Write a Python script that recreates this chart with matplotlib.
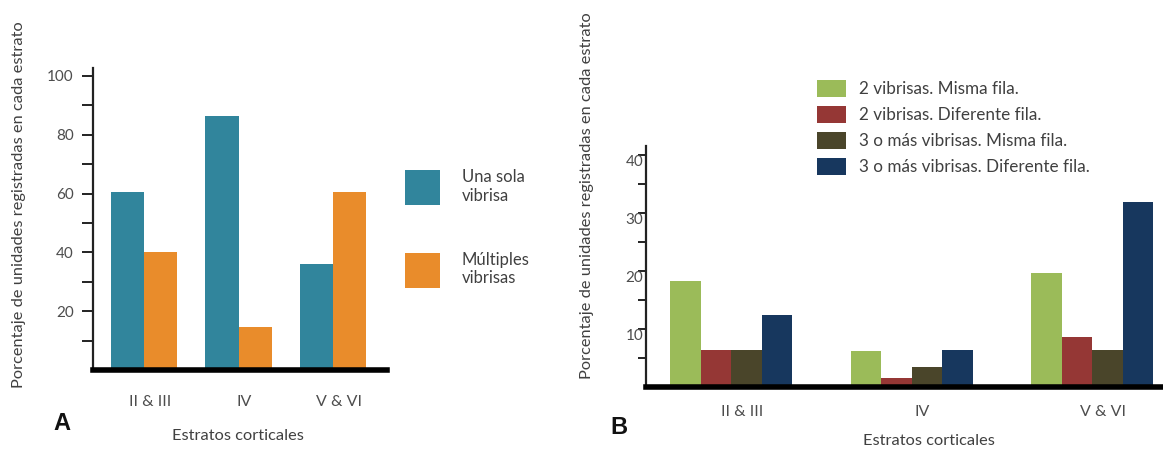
import numpy as np
import matplotlib
matplotlib.use("Agg")
import matplotlib.pyplot as plt

plt.rcParams['font.family'] = ['Lato', 'DejaVu Sans']

# data
estratos = ['II & III', 'IV', 'V & VI']

# panel A
una_sola = [60.5, 86.5, 36]
multiples = [40, 14.5, 60.5]
labels_a = ['Una sola\nvibrisa', 'Múltiples\nvibrisas']

# panel B
dos_misma = [18.3, 6.2, 19.7]
dos_diferente = [6.4, 1.6, 8.6]
tres_misma = [6.4, 3.4, 6.4]
tres_diferente = [12.4, 6.4, 31.9]
labels_b = ['2 vibrisas. Misma fila.', '2 vibrisas. Diferente fila.',
            '3 o más vibrisas. Misma fila.', '3 o más vibrisas. Diferente fila.']

colors_a = ['#31859C', '#E98C2B']
colors_b = ['#9BBB59', '#953735', '#4A452A', '#17375E']

W, H = 1163, 449
txt = '#404040'
tick_c = '#4d4d4d'


def px(x, y):
    return x / W, 1 - y / H


fig = plt.figure(figsize=(W / 100, H / 100), dpi=100)

# ---------- panel A ----------
axA = fig.add_axes([93 / W, (H - 370) / H, (387 - 93) / W, (370 - 68) / H])
x = np.arange(len(estratos))
w = 0.35
bars1 = axA.bar(x - w / 2, una_sola, w, color=colors_a[0], label=labels_a[0])
bars2 = axA.bar(x + w / 2, multiples, w, color=colors_a[1], label=labels_a[1])
axA.set_xlim(-0.54, 2.57)
axA.set_ylim(0, 102.7)
axA.set_yticks([20, 40, 60, 80, 100])
axA.set_yticks([10, 30, 50, 70, 90], minor=True)
axA.tick_params(axis='y', which='both', length=8, width=1.4, color='#222222',
                pad=6, labelsize=11, labelcolor=tick_c)
axA.set_xticks(x + 0.06, estratos)
axA.tick_params(axis='x', length=0, pad=18, labelsize=11.5, labelcolor=tick_c)
for s in ['top', 'right']:
    axA.spines[s].set_visible(False)
axA.spines['left'].set_linewidth(1.6)
axA.spines['left'].set_color('#222222')
axA.spines['bottom'].set_linewidth(4)
axA.spines['bottom'].set_color('black')
axA.spines['bottom'].set_zorder(5)

fig.legend(handles=[bars1, bars2], labels=labels_a, loc='upper left',
           bbox_to_anchor=px(405, 169), frameon=False, fontsize=12,
           handlelength=2.1, handleheight=2.85, handletextpad=1.3,
           labelspacing=2.78, borderpad=0, borderaxespad=0, labelcolor=txt)

fig.text(*px(19, 205), 'Porcentaje de unidades registradas en cada estrato',
         rotation=90, ha='center', va='center', fontsize=11.8, color=txt)
fig.text(*px(238, 436), 'Estratos corticales', ha='center', va='center',
         fontsize=11.8, color=txt)
fig.text(*px(62, 423), 'A', ha='center', va='center', fontsize=17,
         fontweight='bold', color='#111111', family=['Liberation Sans'])

# ---------- panel B ----------
axB = fig.add_axes([646 / W, (H - 387) / H, (W - 646) / W, (387 - 146) / H])
wb = 0.169
series_b = [dos_misma, dos_diferente, tres_misma, tres_diferente]
handles_b = []
for i, (vals, c, lab) in enumerate(zip(series_b, colors_b, labels_b)):
    b = axB.bar(x + (i - 1.5) * wb, vals, wb, color=c, label=lab)
    handles_b.append(b)
axB.set_xlim(-0.471, 2.393)
axB.set_ylim(0, 41.55)
axB.set_yticks([10, 20, 30, 40])
axB.set_yticks([5, 15, 25, 35], minor=True)
axB.tick_params(axis='y', which='both', length=6, width=1.4, color='#222222',
                pad=-4, labelsize=11, labelcolor=tick_c)
for t in axB.get_yticklabels():
    t.set_verticalalignment('top')
axB.set_xticks(x + 0.06, estratos)
axB.tick_params(axis='x', length=0, pad=13, labelsize=11.5, labelcolor=tick_c)
for s in ['top', 'right']:
    axB.spines[s].set_visible(False)
axB.spines['left'].set_linewidth(1.6)
axB.spines['left'].set_color('#222222')
axB.spines['bottom'].set_linewidth(4)
axB.spines['bottom'].set_color('black')
axB.spines['bottom'].set_zorder(5)

fig.legend(handles=handles_b, labels=labels_b, loc='upper left',
           bbox_to_anchor=px(817, 80), frameon=False, fontsize=12.3,
           handlelength=1.7, handleheight=1.15, handletextpad=0.75,
           labelspacing=0.51, borderpad=0, borderaxespad=0, labelcolor=txt)

fig.text(*px(587, 196), 'Porcentaje de unidades registradas en cada estrato',
         rotation=90, ha='center', va='center', fontsize=11.8, color=txt)
fig.text(*px(929, 441), 'Estratos corticales', ha='center', va='center',
         fontsize=11.8, color=txt)
fig.text(*px(619, 427), 'B', ha='center', va='center', fontsize=17,
         fontweight='bold', color='#111111', family=['Liberation Sans'])

fig.savefig('out.png', dpi=100)
